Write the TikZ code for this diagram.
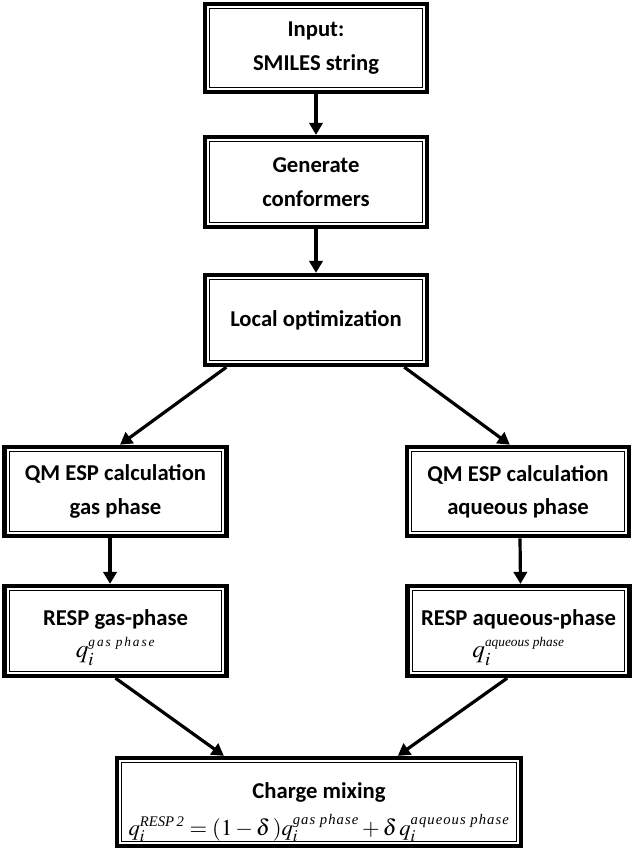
\documentclass[tikz,border=0pt]{standalone}
\usepackage{mathptmx}
\usepackage{fontspec}
\setmainfont{Carlito}
\newfontfamily\supA[LetterSpace=14]{Liberation Serif}
\newfontfamily\supB{Liberation Serif}
\newfontfamily\supC[LetterSpace=7]{Liberation Serif}
\usetikzlibrary{arrows.meta,calc}
\tikzset{
  fbox/.style={draw=black, line width=3.2pt, inner sep=0pt, align=center,
    minimum width=166.5pt, font=\fontsize{17}{25}\selectfont\bfseries,
    path picture={\draw[black, line width=0.75pt]
      ([shift={(3.4pt,3.4pt)}]path picture bounding box.south west) rectangle
      ([shift={(-3.4pt,-3.4pt)}]path picture bounding box.north east);}},
  arr/.style={draw=black, line width=2.4pt, -{Triangle[length=9pt,width=10pt]}}
}
\newcommand\supx[3]{\mbox{\mdseries#1\itshape\fontsize{#2}{#2}\selectfont #3}}
\begin{document}
\begin{tikzpicture}[x=0.75pt,y=-0.75pt]
\path[use as bounding box] (0,0) rectangle (633,852);

\node[fbox, minimum height=66pt] (b1) at (316,48) {Input:\\SMILES string};
\node[fbox, minimum height=67.5pt] (b2) at (316,182) {Generate\\conformers};
\node[fbox, minimum height=67.5pt] (b3) at (316,320) {Local optimization};
\node[fbox, minimum height=67pt] (b4L) at (115.5,491.5) {QM ESP calculation\\gas phase};
\node[fbox, minimum height=67pt] (b4R) at (518,491.5) {QM ESP calculation\\aqueous phase};
\node[fbox, minimum height=67.5pt] (b5L) at (115.5,631)
  {\rule{0pt}{21.5pt}RESP gas-phase\\[-0.5pt] \fontsize{19}{25.5}\selectfont
   $q_i^{\supx{\supA}{10}{gas phase}}$};
\node[fbox, minimum height=67.5pt] (b5R) at (518.5,631)
  {\rule{0pt}{21.5pt}RESP aqueous-phase\\[-0.5pt] \fontsize{19}{25.5}\selectfont
   $q_i^{\supx{\supB}{10}{aqueous phase}}$};
\node[fbox, minimum height=66pt, minimum width=303pt] (b6) at (319,802)
  {\rule{0pt}{27.5pt}Charge mixing\\[2.5pt] \fontsize{17}{27}\selectfont
   $q_i^{\supx{\supB}{11}{RESP\,2}}
   = (1-\delta\,)q_i^{\supx{\supC}{11}{gas phase}}
   + \delta\, q_i^{\supx{\supC}{11}{aqueous phase}}$};

\draw[arr] (b1) -- (b2);
\draw[arr] (b2) -- (b3);
\draw[arr] ($(b3.south west)!0.104!(b3.south east)$) -- ($(b4L.north west)!0.52!(b4L.north east)$);
\draw[arr] ($(b3.south west)!0.89!(b3.south east)$) -- ($(b4R.north west)!0.464!(b4R.north east)$);
\draw[arr] ([xshift=-4.1pt]b4L.south) -- ([xshift=-4.1pt]b5L.north);
\draw[arr] ([xshift=1.5pt]b4R.south) -- ([xshift=1.5pt]b5R.north);
\draw[arr] (b5L.south) -- ($(b6.north west)!0.267!(b6.north east)$);
\draw[arr] ($(b5R.south west)!0.45!(b5R.south east)$) -- ($(b6.north west)!0.693!(b6.north east)$);
\end{tikzpicture}
\end{document}
